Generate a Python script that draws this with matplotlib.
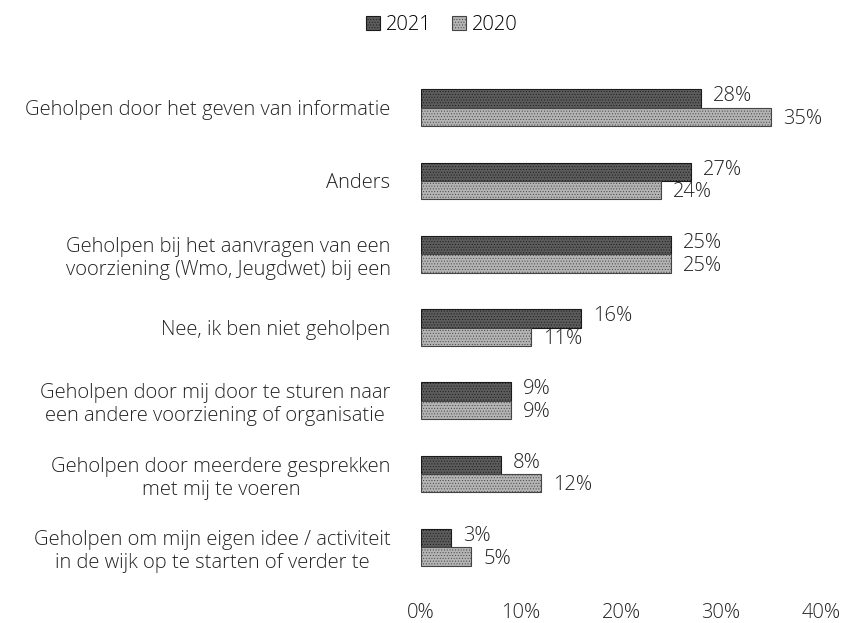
import matplotlib
matplotlib.use("Agg")
import matplotlib.pyplot as plt
import numpy as np

categories = [
    "Geholpen door het geven van informatie",
    "Anders",
    "Geholpen bij het aanvragen van een\nvoorziening (Wmo, Jeugdwet) bij een",
    "Nee, ik ben niet geholpen",
    "Geholpen door mij door te sturen naar\neen andere voorziening of organisatie",
    "Geholpen door meerdere gesprekken\nmet mij te voeren",
    "Geholpen om mijn eigen idee / activiteit\nin de wijk op te starten of verder te",
]
values_2021 = [28, 27, 25, 16, 9, 8, 3]
values_2020 = [35, 24, 25, 11, 9, 12, 5]
xticks = [0, 10, 20, 30, 40]

plt.rcParams['font.family'] = ['Open Sans', 'DejaVu Sans']
plt.rcParams['font.weight'] = 300
plt.rcParams['hatch.linewidth'] = 0.4

fs = 14.5
fig = plt.figure(figsize=(8.49, 6.23), dpi=100)
ax = fig.add_axes([0.496, 0.0626, 0.471, 0.8234])

y = np.arange(len(categories))
h = 0.25
c21 = '#5c5c5c'
c20 = '#b4b4b4'
b1 = ax.barh(y - h / 2, values_2021, height=h, color=c21, edgecolor='#1a1a1a',
             linewidth=0.8, hatch='......', label='2021')
b2 = ax.barh(y + h / 2, values_2020, height=h, color=c20, edgecolor='#444444',
             linewidth=0.8, hatch='......', label='2020')

for yi, v in zip(y - h / 2, values_2021):
    ax.text(v + 1.2, yi - 0.03, f"{v}%", va='center', ha='left', fontsize=fs, color='#222222')
for yi, v in zip(y + h / 2, values_2020):
    ax.text(v + 1.2, yi + 0.03, f"{v}%", va='center', ha='left', fontsize=fs, color='#222222')

ax.set_xlim(0, 40)
ax.set_ylim(len(categories) - 0.5, -0.5)
ax.set_xticks(xticks)
ax.set_xticklabels([f"{t}%" for t in xticks], fontsize=fs, color='#222222')
ax.set_yticks(y)
ax.set_yticklabels(categories, fontsize=fs, color='#222222', multialignment='center')
ax.tick_params(axis='both', length=0)
ax.tick_params(axis='y', pad=22)
ax.tick_params(axis='x', pad=14)
for s in ax.spines.values():
    s.set_visible(False)

fig.legend(handles=[b1, b2], labels=['2021', '2020'], loc='upper center',
           bbox_to_anchor=(0.52, 1.005), ncol=2, frameon=False, fontsize=fs,
           handlelength=0.7, handleheight=0.7, handletextpad=0.3, columnspacing=1.0)

fig.savefig("out.png", dpi=100)
